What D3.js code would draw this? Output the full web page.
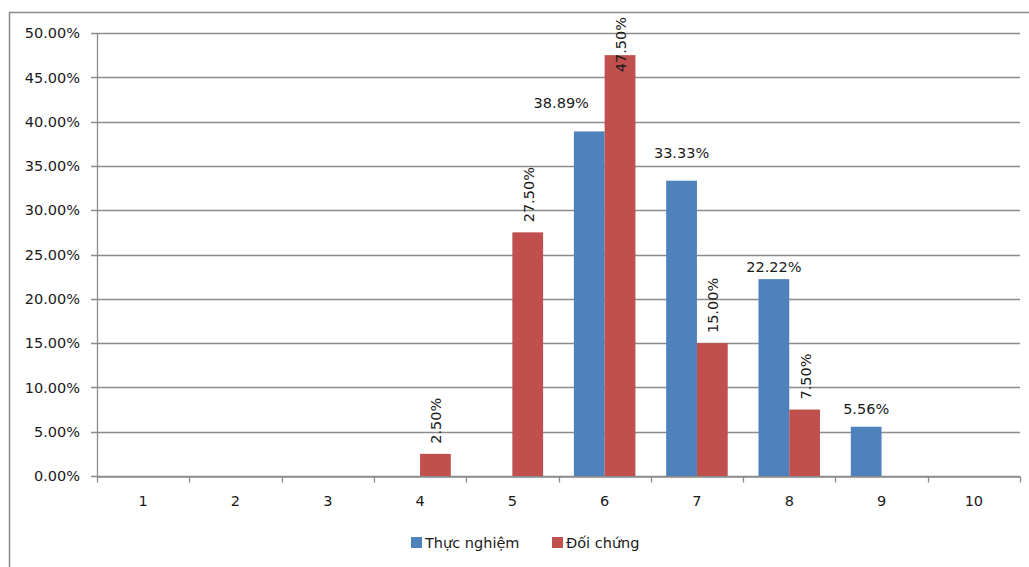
<!DOCTYPE html>
<html>
<head>
<meta charset="utf-8">
<script src="https://cdn.jsdelivr.net/npm/d3@7"></script>
<style>
  body { margin: 0; background: #fff; }
  text { font-family: "DejaVu Sans", Verdana, sans-serif; fill: #1a1a1a; }
</style>
</head>
<body>
<div id="d3-container"></div>
<script>
/**
 * DATA
 * */
const categories = ["1", "2", "3", "4", "5", "6", "7", "8", "9", "10"];
const thucNghiem = [null, null, null, null, null, 38.89, 33.33, 22.22, 5.56, null];
const doiChung = [null, null, null, 2.5, 27.5, 47.5, 15.0, 7.5, null, null];
const seriesNames = ["Thực nghiệm", "Đối chứng"];
const yTicks = [0, 5, 10, 15, 20, 25, 30, 35, 40, 45, 50];

/**
 * CONSTANTS
 * */
const width = 1029,
  height = 567,
  margin = { top: 33, bottom: 91, left: 97, right: 9 };
const colors = ["#4F81BD", "#C0504D"];
const gridColor = "#8c8c8c";
const fontSize = 14.5;

// small hand nudges for the horizontal labels (Excel moved some of them)
const blueNudge = { "6": [-28, -16], "7": [0, -16], "9": [0, -6] };

const svg = d3.select("#d3-container")
  .append("svg")
  .attr("width", width)
  .attr("height", height);

// chart frame (only top and left edges are visible in the picture)
svg.append("path")
  .attr("d", `M9.5,${height} V12.5 H${width}`)
  .attr("fill", "none")
  .attr("stroke", "#8a8a8a")
  .attr("stroke-width", 1.5);

const x = d3.scaleBand()
  .domain(categories)
  .range([margin.left, width - margin.right])
  .paddingInner(0)
  .paddingOuter(0);

const y = d3.scaleLinear()
  .domain([0, 50])
  .range([height - margin.bottom, margin.top]);

const bw = x.bandwidth() / 3;
const xs = d3.scaleBand()
  .domain([0, 1])
  .range([bw / 2, x.bandwidth() - bw / 2]);

// gridlines + y axis ticks
svg.append("g")
  .selectAll("line")
  .data(yTicks)
  .join("line")
  .attr("x1", margin.left - 6)
  .attr("x2", width - margin.right)
  .attr("y1", d => Math.round(y(d)) + 0.5)
  .attr("y2", d => Math.round(y(d)) + 0.5)
  .attr("stroke", gridColor)
  .attr("stroke-width", 1.3);

svg.append("g")
  .selectAll("text")
  .data(yTicks)
  .join("text")
  .attr("x", margin.left - 17)
  .attr("y", d => y(d))
  .attr("dy", "0.36em")
  .attr("text-anchor", "end")
  .style("font-size", fontSize + "px")
  .text(d => d.toFixed(2) + "%");

// y axis line
svg.append("line")
  .attr("x1", margin.left + 0.5)
  .attr("x2", margin.left + 0.5)
  .attr("y1", y(50))
  .attr("y2", y(0))
  .attr("stroke", gridColor)
  .attr("stroke-width", 1.3);

// x axis
const xAxis = d3.axisBottom(x)
  .tickSize(0)
  .tickPadding(19);

const gx = svg.append("g")
  .attr("transform", `translate(0,${Math.round(y(0)) + 0.5})`)
  .call(xAxis);
gx.select(".domain").attr("stroke", gridColor).attr("stroke-width", 1.3);
gx.selectAll("text")
  .style("font-size", fontSize + "px")
  .style("font-family", "DejaVu Sans, Verdana, sans-serif")
  .attr("fill", "#1a1a1a");

// category boundary ticks
const bounds = categories.map(c => x(c)).concat([x.range()[1]]);
gx.selectAll(".bound")
  .data(bounds)
  .join("line")
  .attr("class", "bound")
  .attr("x1", d => Math.round(d) + 0.5)
  .attr("x2", d => Math.round(d) + 0.5)
  .attr("y1", 0)
  .attr("y2", 6)
  .attr("stroke", gridColor)
  .attr("stroke-width", 1.3);

// bars
const series = [thucNghiem, doiChung];
series.forEach((vals, si) => {
  const rows = categories.map((c, i) => ({ c, v: vals[i] })).filter(d => d.v != null);
  svg.append("g")
    .selectAll("rect")
    .data(rows)
    .join("rect")
    .attr("x", d => x(d.c) + xs(si))
    .attr("width", xs.bandwidth())
    .attr("y", d => y(d.v))
    .attr("height", d => y(0) - y(d.v))
    .attr("fill", colors[si]);
});

// blue labels, horizontal
const blueRows = categories.map((c, i) => ({ c, v: thucNghiem[i] })).filter(d => d.v != null);
svg.append("g")
  .selectAll("text")
  .data(blueRows)
  .join("text")
  .attr("x", d => x(d.c) + xs(0) + xs.bandwidth() / 2 + (blueNudge[d.c] ? blueNudge[d.c][0] : 0))
  .attr("y", d => y(d.v) - 7 + (blueNudge[d.c] ? blueNudge[d.c][1] : 0))
  .attr("text-anchor", "middle")
  .style("font-size", fontSize + "px")
  .text(d => d.v.toFixed(2) + "%");

// red labels, rotated; pushed down into the bar when there is no room above
const redRows = categories.map((c, i) => ({ c, v: doiChung[i] })).filter(d => d.v != null);
svg.append("g")
  .selectAll("text")
  .data(redRows)
  .join("text")
  .attr("text-anchor", "start")
  .style("font-size", fontSize + "px")
  .text(d => d.v.toFixed(2) + "%")
  .attr("transform", function(d) {
    const len = this.getComputedTextLength();
    const cx = x(d.c) + xs(1) + xs.bandwidth() / 2 + 6;
    const by = Math.max(y(d.v) - 10, 17 + len);
    return `translate(${cx},${by}) rotate(-90)`;
  });

// legend
const legend = svg.append("g")
  .attr("transform", `translate(411,543)`);
const items = legend.selectAll("g")
  .data(seriesNames)
  .join("g")
  .attr("transform", (d, i) => `translate(${i * 141},0)`);
items.append("rect")
  .attr("x", 0)
  .attr("y", -6)
  .attr("width", 11)
  .attr("height", 11)
  .attr("fill", (d, i) => colors[i]);
items.append("text")
  .attr("x", 14)
  .attr("y", 0)
  .attr("dy", "0.36em")
  .style("font-size", fontSize + "px")
  .text(d => d);
</script>
</body>
</html>
